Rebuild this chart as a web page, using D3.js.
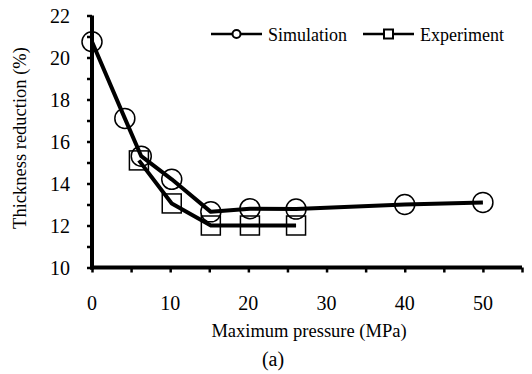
<!DOCTYPE html>
<html>
<head>
<meta charset="utf-8">
<script src="https://cdn.jsdelivr.net/npm/d3@7"></script>
</head>
<body style="margin:0">
<script>
// chart data
var simPressure = [0, 4.2, 6.3, 10.2, 15.2, 20.2, 26.1, 40, 50];
var simThickness = [20.75, 17.1, 15.3, 14.2, 12.65, 12.8, 12.78, 13.0, 13.1];
var expPressure = [6, 10.2, 15.2, 20.2, 26.1];
var expThickness = [15.1, 13.05, 12.0, 12.0, 12.0];
var xTicks = [0, 10, 20, 30, 40, 50];
var yTicks = [10, 12, 14, 16, 18, 20, 22];
var seriesNames = ['Simulation', 'Experiment'];

var W = 532, H = 374;
var svg = d3.select('body').append('svg')
  .attr('width', W)
  .attr('height', H);

var x = d3.scaleLinear().domain([0, 55]).range([92, 522]);
var y = d3.scaleLinear().domain([10, 22]).range([267.5, 15.5]);

var zip = (xs, ys) => xs.map((v, i) => [v, ys[i]]);
var simData = zip(simPressure, simThickness);
var expData = zip(expPressure, expThickness);

var addText = (parent, size) => parent.append('text')
  .attr('font-family', 'Liberation Serif')
  .attr('font-size', size)
  .attr('fill', '#000');

// x axis: ticks every 5, labels every 10
var xAxis = svg.append('g')
  .attr('transform', 'translate(0,' + y(10) + ')')
  .call(d3.axisBottom(x).tickValues(d3.range(0, 56, 5)).tickSize(5).tickFormat(''));
xAxis.select('.domain').attr('stroke-width', 4).attr('d', 'M' + (x(0) - 2) + ',0H' + x(55));
xAxis.selectAll('.tick line').attr('stroke-width', 2.5);

var xLab = svg.append('g');
xTicks.forEach((d) => {
  addText(xLab, 20)
    .attr('x', x(d))
    .attr('y', 310)
    .attr('text-anchor', 'middle')
    .text(d);
});

// y axis: ticks every 1, labels every 2
var yAxis = svg.append('g')
  .attr('transform', 'translate(' + x(0) + ',0)')
  .call(d3.axisLeft(y).tickValues(d3.range(10, 23, 1)).tickSize(5).tickFormat(''));
yAxis.select('.domain').attr('stroke-width', 4).attr('d', 'M0,' + y(22) + 'V' + (y(10) + 2));
yAxis.selectAll('.tick line').attr('stroke-width', 2.5);

var yLab = svg.append('g');
yTicks.forEach((d) => {
  addText(yLab, 20)
    .attr('x', 70)
    .attr('y', d => y(d) + 7)
    .attr('y', y(d) + 7)
    .attr('text-anchor', 'end')
    .text(d);
});

// axis titles
addText(svg, 18.5)
  .attr('x', 309)
  .attr('y', 337)
  .attr('text-anchor', 'middle')
  .text('Maximum pressure (MPa)');

addText(svg, 18.5)
  .attr('transform', 'translate(25.5,138) rotate(-90)')
  .attr('text-anchor', 'middle')
  .text('Thickness reduction (%)');

addText(svg, 20)
  .attr('x', 273)
  .attr('y', 366)
  .attr('text-anchor', 'middle')
  .text('(a)');

// series lines
var line = d3.line().x(d => x(d[0])).y(d => y(d[1]));

[expData, simData].forEach((data) => {
  svg.append('path')
    .datum(data)
    .attr('d', line)
    .attr('fill', 'none')
    .attr('stroke', '#000')
    .attr('stroke-width', 4)
    .attr('stroke-linejoin', 'round');
});

// markers
var sq = 19;
svg.append('g').selectAll('rect')
  .data(expData)
  .join('rect')
  .attr('x', d => x(d[0]) - sq / 2)
  .attr('y', d => y(d[1]) - sq / 2)
  .attr('width', sq)
  .attr('height', sq)
  .attr('fill', 'none')
  .attr('stroke', '#000')
  .attr('stroke-width', 1.5);

svg.append('g').selectAll('circle')
  .data(simData)
  .join('circle')
  .attr('cx', d => x(d[0]))
  .attr('cy', d => y(d[1]))
  .attr('r', 10)
  .attr('fill', 'none')
  .attr('stroke', '#000')
  .attr('stroke-width', 1.5);

// legend
var legendItems = [{ name: seriesNames[0], x0: 211, shape: 'circle' }, { name: seriesNames[1], x0: 363, shape: 'square' }];
legendItems.forEach((item) => {
  var g = svg.append('g').attr('transform', 'translate(' + item.x0 + ',34)');
  g.append('line')
    .attr('x1', 0).attr('x2', 51)
    .attr('y1', 0).attr('y2', 0)
    .attr('stroke', '#000')
    .attr('stroke-width', 2.5);
  if (item.shape == 'circle') {
    g.append('circle')
      .attr('cx', 25.5).attr('cy', 0).attr('r', 4)
      .attr('fill', '#fff')
      .attr('stroke', '#000')
      .attr('stroke-width', 2);
  } else {
    g.append('rect')
      .attr('x', 21).attr('y', -4.5).attr('width', 9).attr('height', 9)
      .attr('fill', '#fff')
      .attr('stroke', '#000')
      .attr('stroke-width', 2);
  }
  addText(g, 18)
    .attr('x', 57)
    .attr('y', 6.5)
    .text(item.name);
});
</script>
</body>
</html>
